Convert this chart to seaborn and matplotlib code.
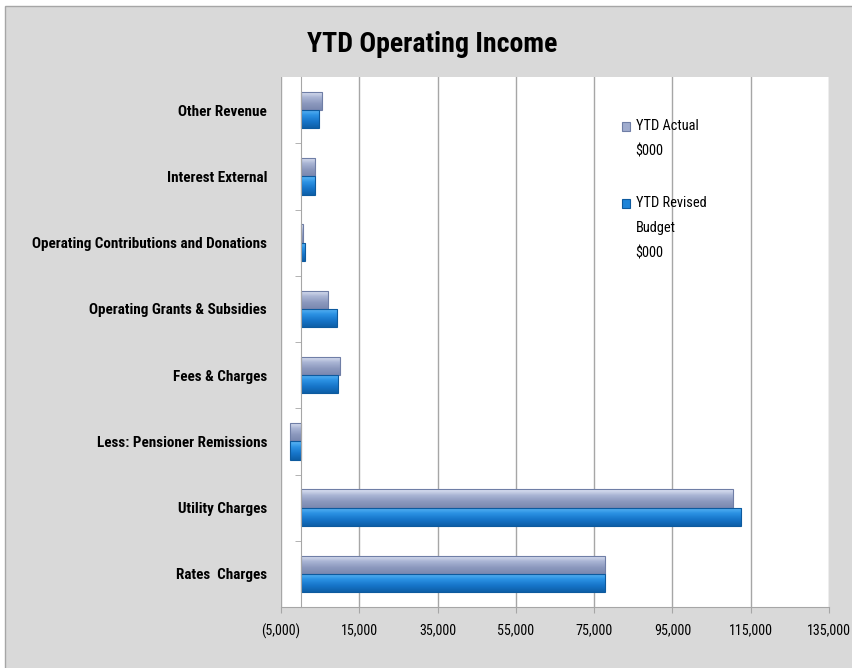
import numpy as np
import pandas as pd
import matplotlib.pyplot as plt
import matplotlib.font_manager as fm
import seaborn as sns
from matplotlib.patches import Patch, Rectangle
from matplotlib.legend_handler import HandlerPatch
from matplotlib.ticker import FuncFormatter
from matplotlib.colors import LinearSegmentedColormap

categories = ['Other Revenue', 'Interest External', 'Operating Contributions and Donations',
              'Operating Grants & Subsidies', 'Fees & Charges', 'Less: Pensioner Remissions',
              'Utility Charges', 'Rates  Charges']
ytd_actual = [5400, 3600, 500, 6900, 10000, -2600, 110500, 77800]
ytd_budget = [4800, 3700, 1200, 9400, 9500, -2700, 112600, 77800]
series = ['YTD Actual\n$000', 'YTD Revised\nBudget\n$000']
colors = ['#a0acce', '#1e84d8']
edges = ['#6f7ea6', '#0d5a9e']
grads = [['#dfe5f4', '#a9b4d4', '#8b98bd', '#7a88b0'],
         ['#5cb8f7', '#2a90e2', '#1674c8', '#0e5fa8']]

df = pd.DataFrame({
    'category': categories * 2,
    'value': ytd_actual + ytd_budget,
    'series': [series[0]] * len(categories) + [series[1]] * len(categories),
})

# the original text is narrow and tall, so use a condensed face when one is installed
installed = fm.fontManager.ttflist
names = {f.name for f in installed}
family, stretch = 'Liberation Sans', 'normal'
for cand in ['Roboto Condensed', 'Liberation Sans Narrow', 'Open Sans Condensed', 'DejaVu Sans Condensed']:
    if cand in names:
        family = cand
        break
else:
    for cand in ['Roboto', 'Noto Sans', 'Open Sans', 'DejaVu Sans']:
        if any(f.name == cand and f.stretch in ('condensed', 'semi-condensed') for f in installed):
            family, stretch = cand, 'condensed'
            break
plt.rcParams['font.family'] = [family, 'DejaVu Sans']
plt.rcParams['font.stretch'] = stretch

fig = plt.figure(figsize=(8.53, 6.68), dpi=100, facecolor='white')
renderer = fig.canvas.get_renderer()


def fit_size(s, target_px, weight='normal'):
    t = fig.text(0, 0, s, fontsize=10, fontweight=weight)
    w = t.get_window_extent(renderer=renderer).width
    t.remove()
    return 10 * target_px / w


cat_size = fit_size('Operating Contributions and Donations', 236, 'bold')
tick_size = fit_size('15,000', 37)
title_size = fit_size('YTD Operating Income', 250, 'bold')
leg_size = fit_size('YTD Revised', 70)

fig.patches.append(Rectangle((5 / 853, -0.01), 1.0, 1 - 6 / 668 + 0.01, transform=fig.transFigure,
                             facecolor='#d9d9d9', edgecolor='#a6a6a6', lw=1, zorder=-10))
ax = fig.add_axes([281 / 853, 1 - 607 / 668, 548 / 853, 530 / 668])
ax.set_facecolor('white')

sns.barplot(data=df, y='category', x='value', hue='series', order=categories, hue_order=series,
            orient='h', width=0.55, palette=colors, errorbar=None, legend=False, ax=ax)

# bevelled look: vertical gradient clipped to each bar
ylim = ax.get_ylim()
for i, cont in enumerate(ax.containers):
    cmap = LinearSegmentedColormap.from_list('g%d' % i, grads[i])
    for p in cont:
        p.set_edgecolor(edges[i])
        p.set_linewidth(0.8)
        x0, y0, w, h = p.get_x(), p.get_y(), p.get_width(), p.get_height()
        im = ax.imshow(np.linspace(0, 1, 64).reshape(-1, 1), cmap=cmap, aspect='auto',
                       extent=(x0, x0 + w, y0 + h, y0), origin='upper', zorder=p.get_zorder())
        im.set_clip_path(p)
        p.set_zorder(p.get_zorder() + 0.1)
        p.set_facecolor('none')

ax.set_xlim(-5000, 135000)
ax.set_ylim(*ylim)
ax.set_xticks(range(-5000, 135001, 20000))
ax.xaxis.set_major_formatter(FuncFormatter(lambda v, _: f'({abs(v):,.0f})' if v < 0 else f'{v:,.0f}'))
ax.grid(axis='x', color='#a6a6a6', lw=1)
ax.set_axisbelow(True)
ax.set_xlabel('')
ax.set_ylabel('')

ax.spines['top'].set_visible(False)
ax.spines['right'].set_visible(False)
ax.spines['bottom'].set_color('#a6a6a6')
ax.spines['left'].set_position(('data', 0))
ax.spines['left'].set_color('#a6a6a6')

ax.tick_params(axis='x', length=4, color='#a6a6a6', pad=8, labelsize=tick_size)
ax.tick_params(axis='y', which='major', length=0, pad=24, labelsize=cat_size)
ax.set_yticks([i + 0.5 for i in range(len(categories) - 1)], minor=True)
ax.tick_params(axis='y', which='minor', length=4, color='#a6a6a6', direction='out')
for lbl in ax.get_yticklabels():
    lbl.set_fontweight('bold')

fig.text(432 / 853, 1 - 45 / 668, 'YTD Operating Income', ha='center', va='center',
         fontsize=title_size, fontweight='bold')

pitch_px = 25.0  # pixels between legend text lines
_, lp_h, lp_d = renderer.get_text_width_height_descent(
    'lp', fm.FontProperties(size=leg_size), ismath=False)


class TopSquare(HandlerPatch):
    # put the square next to the first line of a multi-line label
    def create_artists(self, legend, orig_handle, xdescent, ydescent, width, height, fontsize, trans):
        nlines = orig_handle.get_label().count('\n') + 1
        shift = (nlines - 1) / 2 * pitch_px * 0.72
        r = Rectangle((-xdescent, -ydescent + shift), width, height,
                      facecolor=orig_handle.get_facecolor(), edgecolor=orig_handle.get_edgecolor(),
                      lw=0.8, transform=trans)
        return [r]


handles = [Patch(facecolor=c, edgecolor=e, label=s) for c, e, s in zip(colors, edges, series)]
leg = ax.legend(handles=handles, loc='upper left', bbox_to_anchor=(0.609, 0.934), frameon=False,
                borderpad=0, fontsize=leg_size, handlelength=0.6, handleheight=0.6,
                handletextpad=0.35, labelspacing=27 / leg_size, handler_map={Patch: TopSquare()})
for t in leg.get_texts():
    t.set_linespacing(pitch_px * 25 / 28 / (lp_h - lp_d))

plt.savefig('out.png', dpi=100, facecolor=fig.get_facecolor())
